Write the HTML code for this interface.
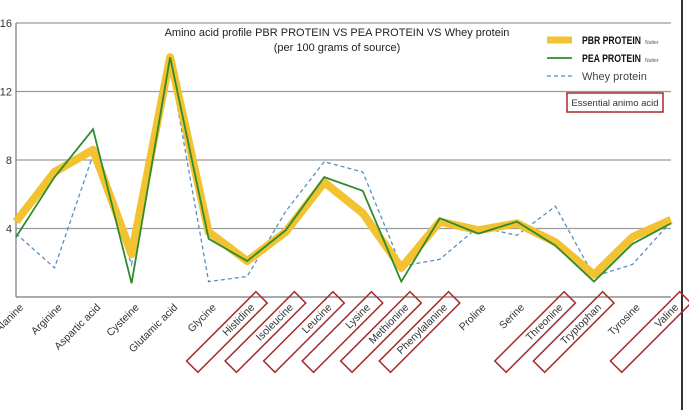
<!DOCTYPE html>
<html><head><meta charset="utf-8"><style>
html,body{margin:0;padding:0;background:#fff;}
svg{display:block;font-family:"Liberation Sans","DejaVu Sans",sans-serif;}
</style></head><body>
<svg id="chart" width="689" height="410"></svg>
<script>
const categories=["Alanine","Arginine","Aspartic acid","Cysteine","Glutamic acid","Glycine","Histidine","Isoleucine","Leucine","Lysine","Methionine","Phenylalanine","Proline","Serine","Threonine","Tryptophan","Tyrosine","Valine"];
const essential=[false,false,false,false,false,false,true,true,true,true,true,true,false,false,true,true,false,true];
const pbr=[4.4,7.3,8.6,2.5,14.0,3.8,2.1,3.8,6.7,4.9,1.7,4.4,3.9,4.3,3.2,1.3,3.5,4.5];
const pea=[3.5,7.0,9.8,0.8,14.0,3.4,2.1,3.9,7.0,6.2,0.9,4.6,3.7,4.4,3.0,0.9,3.1,4.3];
const whey=[3.7,1.7,8.3,1.9,13.5,0.9,1.2,5.0,7.9,7.3,1.8,2.2,4.1,3.6,5.3,1.2,1.9,4.4];
const yTicks=[4,8,12,16];

const NS="http://www.w3.org/2000/svg";
const svg=document.getElementById("chart");
const L=16,R=671,T=23,B=297;
const x=i=>L+i*(R-L)/(categories.length-1);
const y=v=>B-v/16*(B-T);
function mk(tag,attrs,parent){const e=document.createElementNS(NS,tag);for(const k in attrs)e.setAttribute(k,attrs[k]);(parent||svg).appendChild(e);return e;}

yTicks.forEach(t=>{
  const g=mk("line",{x1:L,x2:R,y1:y(t),y2:y(t),stroke:"#9a9a9a","stroke-width":1.3});
  
  
  const lb=mk("text",{x:12,y:y(t)+4,"text-anchor":"end","font-size":11,fill:"#333"});
  lb.textContent=t;
  
  
});
const ax=mk("line",{x1:L,x2:L,y1:T,y2:B,stroke:"#777","stroke-width":1.2});


const bx=mk("line",{x1:L,x2:R,y1:B,y2:B,stroke:"#777","stroke-width":1.2});


const rb=mk("line",{x1:682,x2:682,y1:0,y2:410,stroke:"#333","stroke-width":2});



function pts(arr){return arr.map((v,i)=>x(i)+","+y(v)).join(" ");}
const s1=mk("polyline",{points:pts(whey),fill:"none",stroke:"#5b8fc0","stroke-width":1.3,"stroke-dasharray":"4,3"});


const s2=mk("polyline",{points:pts(pbr),fill:"none",stroke:"#f2c230","stroke-width":8,"stroke-linejoin":"round"});


const s3=mk("polyline",{points:pts(pea),fill:"none",stroke:"#2e8b2e","stroke-width":1.8});



categories.forEach((c,i)=>{
  const g=mk("g",{transform:`translate(${x(i)+8},308) rotate(-45)`});
  
  
  if(essential[i]){
    const r=mk("rect",{x:-86,y:-11,width:98,height:16,fill:"none",stroke:"#a52a2a","stroke-width":1.5},g);
    
    
  }
  const t=mk("text",{x:0,y:0,"text-anchor":"end","font-size":10.5,fill:"#333"},g);
  t.textContent=c;
});
</script>
<svg width="689" height="410" style="position:absolute;left:0;top:0">
  <text x="337" y="36" text-anchor="middle" font-size="11" fill="#222" font-family="Liberation Sans,sans-serif">Amino acid profile PBR PROTEIN VS PEA PROTEIN VS Whey protein</text>
  <text x="337" y="51" text-anchor="middle" font-size="11" fill="#222" font-family="Liberation Sans,sans-serif">(per 100 grams of source)</text>
  <g font-family="Liberation Sans,sans-serif">
    <line x1="547" x2="572" y1="40" y2="40" stroke="#f2c230" stroke-width="7"/>
    <text x="582" y="44" font-size="11" font-weight="bold" fill="#111" textLength="59" lengthAdjust="spacingAndGlyphs">PBR PROTEIN</text>
    <text x="645" y="44" font-size="5" fill="#555">Nutter</text>
    <line x1="547" x2="572" y1="58" y2="58" stroke="#2e8b2e" stroke-width="1.8"/>
    <text x="582" y="62" font-size="11" font-weight="bold" fill="#111" textLength="59" lengthAdjust="spacingAndGlyphs">PEA PROTEIN</text>
    <text x="645" y="62" font-size="5" fill="#555">Nutter</text>
    <line x1="547" x2="572" y1="76" y2="76" stroke="#5b8fc0" stroke-width="1.3" stroke-dasharray="4,3"/>
    <text x="582" y="80" font-size="11" fill="#444">Whey protein</text>
    <rect x="567" y="93" width="96" height="19" fill="none" stroke="#a52a2a" stroke-width="1.5"/>
    <text x="615" y="106" text-anchor="middle" font-size="9.5" fill="#333">Essential animo acid</text>
  </g>
</svg>
</body></html>
